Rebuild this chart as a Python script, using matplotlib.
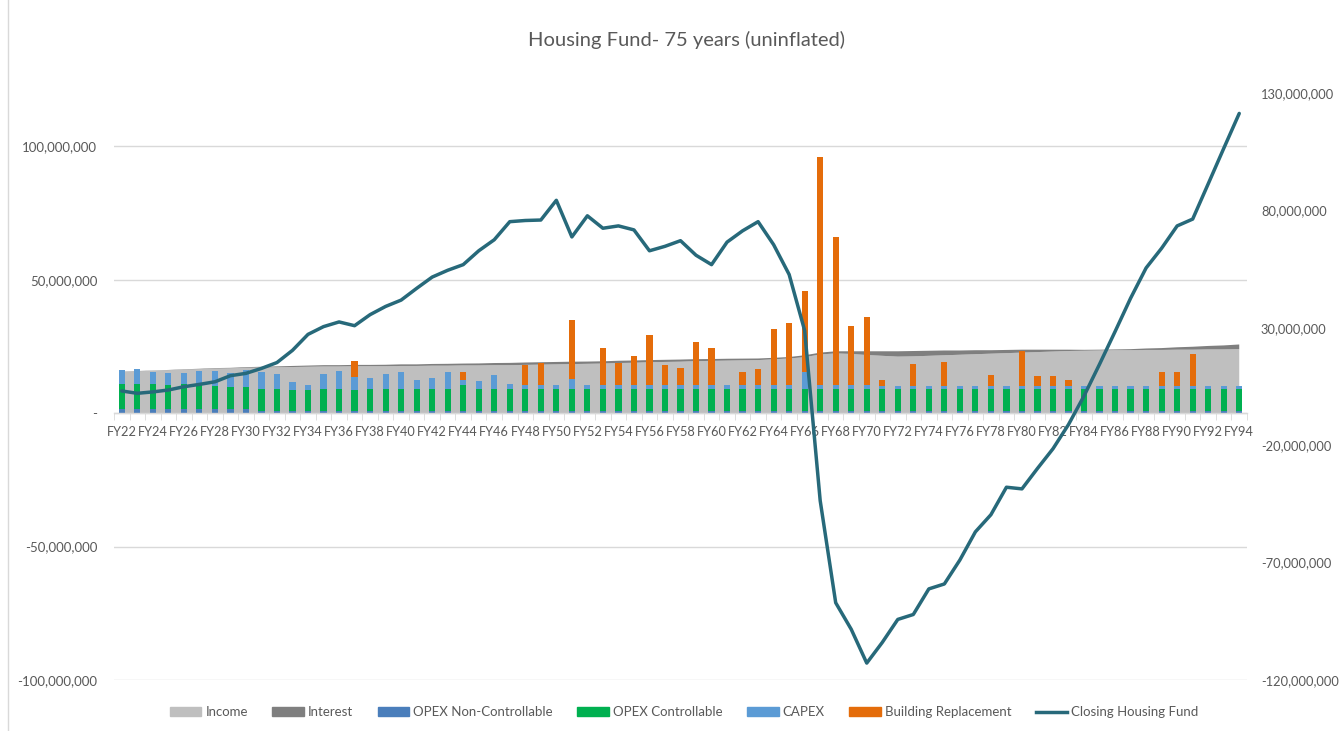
import matplotlib
matplotlib.use('Agg')
import matplotlib.pyplot as plt
from matplotlib.patches import Patch
from matplotlib.lines import Line2D
from matplotlib.ticker import FuncFormatter, FixedLocator
import numpy as np

plt.rcParams['font.family'] = ['Lato', 'DejaVu Sans']
plt.rcParams['axes.unicode_minus'] = False

# categories
years = ['FY%d' % y for y in range(22, 95)]

# values in millions (left axis)
income = [15.5, 15.7, 15.9, 16.1, 16.3, 16.5, 16.7, 16.8, 17.0, 17.1,
          17.2, 17.3, 17.4, 17.5, 17.5, 17.6, 17.6, 17.6, 17.7, 17.7,
          17.8, 17.8, 17.9, 17.9, 18.0, 18.0, 18.1, 18.2, 18.3, 18.4,
          18.5, 18.6, 18.8, 18.9, 19.1, 19.2, 19.3, 19.5, 19.6, 19.7,
          19.8, 19.9, 20.2, 20.5, 21.0, 22.0, 22.4, 22.2, 21.8, 21.5,
          21.2, 21.3, 21.5, 21.7, 21.9, 22.1, 22.3, 22.5, 22.7, 22.9,
          23.1, 23.3, 23.4, 23.5, 23.6, 23.6, 23.7, 23.7, 23.8, 23.8,
          23.9, 23.9, 24.0]

interest = [0.1, 0.1, 0.1, 0.1, 0.15, 0.15, 0.2, 0.2, 0.25, 0.3,
            0.35, 0.4, 0.45, 0.5, 0.5, 0.5, 0.5, 0.55, 0.6, 0.6,
            0.65, 0.7, 0.7, 0.75, 0.8, 0.85, 0.9, 0.9, 0.9, 0.9,
            0.85, 0.85, 0.85, 0.85, 0.8, 0.8, 0.8, 0.75, 0.7, 0.7,
            0.65, 0.6, 0.55, 0.55, 0.7, 0.7, 0.8, 1.0, 1.4, 1.7,
            2.0, 2.0, 1.9, 1.8, 1.6, 1.5, 1.3, 1.2, 1.1, 0.9,
            0.7, 0.5, 0.35, 0.3, 0.3, 0.4, 0.55, 0.7, 0.9, 1.1,
            1.3, 1.5, 1.75]

opex_nc = [1.6, 1.6, 1.6, 1.6, 1.6, 1.6, 1.6, 1.6, 1.6, 0.8,
           0.8, 0.8, 0.8, 0.8, 0.8, 0.8, 0.8, 0.8, 0.8, 0.8,
           0.8, 0.8, 0.8, 0.8, 0.8, 0.8, 0.8, 0.8, 0.8, 0.8,
           0.8, 0.8, 0.8, 0.8, 0.8, 0.8, 0.8, 0.8, 0.8, 0.8,
           0.8, 0.8, 0.8, 0.8, 0.8, 0.8, 0.8, 0.8, 0.8, 0.8,
           0.8, 0.8, 0.8, 0.8, 0.8, 0.8, 0.8, 0.8, 0.8, 0.8,
           0.8, 0.8, 0.8, 0.8, 0.8, 0.8, 0.8, 0.8, 0.8, 0.8,
           0.8, 0.8, 0.8]

opex_c = [9.15, 9.4, 9.4, 8.8, 9.3, 9.15, 8.5, 8.3, 8.3, 8.3,
          8.2, 7.95, 7.8, 8.1, 8.1, 7.8, 8.1, 8.1, 8.1, 8.1,
          8.2, 8.2, 9.6, 8.2, 8.4, 8.3, 8.4, 8.4, 8.4, 8.4,
          8.4, 8.4, 8.4, 8.4, 8.4, 8.4, 8.4, 8.4, 8.4, 8.4,
          8.4, 8.4, 8.4, 8.4, 8.4, 8.4, 8.4, 8.4, 8.4, 8.3,
          8.3, 8.3, 8.3, 8.3, 8.3, 8.3, 8.3, 8.3, 8.3, 8.3,
          8.3, 8.3, 8.3, 8.3, 8.3, 8.3, 8.3, 8.3, 8.3, 8.3,
          8.3, 8.3, 8.3]

capex = [5.35, 5.5, 4.4, 4.6, 4.2, 5.0, 5.8, 5.0, 6.2, 6.3,
         5.75, 3.0, 2.0, 5.6, 7.0, 5.0, 4.35, 5.6, 6.6, 3.7,
         4.25, 6.4, 2.2, 3.1, 5.2, 1.8, 1.25, 1.25, 1.25, 3.75,
         1.25, 1.25, 1.25, 1.25, 1.25, 1.25, 1.25, 1.25, 1.25, 1.25,
         1.25, 1.25, 1.25, 1.25, 6.25, 1.25, 1.25, 1.25, 1.25, 1.25,
         1.25, 1.25, 1.25, 1.25, 1.25, 1.25, 1.25, 1.25, 1.25, 1.25,
         1.25, 1.25, 1.25, 1.25, 1.25, 1.25, 1.25, 1.25, 1.25, 1.25,
         1.25, 1.25, 1.25]

building = [0, 0, 0, 0, 0, 0, 0, 0, 0, 0,
            0, 0, 0, 0, 0, 6.0, 0, 0, 0, 0,
            0, 0, 3.0, 0, 0, 0, 7.75, 8.25, 0, 22.0,
            0, 14.0, 8.25, 10.9, 18.75, 7.75, 6.5, 16.1, 14.0, 0,
            5.1, 6.0, 21.0, 23.4, 30.25, 85.5, 55.6, 22.25, 25.6, 2.1,
            0, 8.25, 0, 9.0, 0, 0, 3.9, 0, 13.0, 3.6,
            3.6, 1.9, 0, 0, 0, 0, 0, 5.25, 4.9, 11.9,
            0, 0, 0]

# right axis
closing_fund = [3.1, 2.1, 2.7, 3.5, 4.9, 5.9, 7.0, 9.6, 10.6, 12.7,
                15.2, 20.4, 27.2, 30.5, 32.5, 30.9, 35.6, 39.1, 41.8, 46.8,
                51.6, 54.5, 56.9, 62.8, 67.5, 75.2, 75.7, 75.9, 84.3, 68.7,
                77.7, 72.4, 73.4, 71.7, 62.8, 64.7, 67.1, 60.9, 56.9, 66.5,
                71.3, 75.2, 65.4, 52.7, 28.8, -43.6, -87.1, -98.4, -112.8, -104.0,
                -94.2, -92.1, -81.2, -79.1, -68.9, -56.9, -49.6, -37.9, -38.6, -29.9,
                -21.5, -11.2, 1.0, 14.5, 28.4, 42.6, 55.5, 63.9, 73.4, 76.3,
                91.3, 106.4, 121.3]

M = 1e6
x = np.arange(len(years))
grey_txt = '#595959'
c_income = '#BFBFBF'
c_interest = '#7F7F7F'
c_nc = '#4A7EBB'
c_c = '#00B050'
c_capex = '#5B9BD5'
c_build = '#E46C0A'
c_line = '#27697A'

fig = plt.figure(figsize=(13.39, 7.31), dpi=100)
ax = fig.add_axes([114/1339, 1-680/731, (1247-114)/1339, (680-93)/731])

inc = np.array(income) * M
intr = np.array(interest) * M
ax.stackplot(x, inc, intr, colors=[c_income, c_interest], linewidth=0, zorder=1)

w = 0.4
nc = np.array(opex_nc) * M
oc = np.array(opex_c) * M
cp = np.array(capex) * M
br = np.array(building) * M
ax.bar(x, nc, w, color=c_nc, zorder=2)
ax.bar(x, oc, w, bottom=nc, color=c_c, zorder=2)
ax.bar(x, cp, w, bottom=nc + oc, color=c_capex, zorder=2)
ax.bar(x, br, w, bottom=nc + oc + cp, color=c_build, zorder=2)

ax.set_xlim(-0.5, len(years) - 0.5)
ax.set_ylim(-100 * M, 120 * M)
ax.yaxis.set_major_locator(FixedLocator([-100 * M, -50 * M, 0, 50 * M, 100 * M]))
ax.yaxis.set_major_formatter(FuncFormatter(lambda v, p: '-' if v == 0 else '{:,.0f}'.format(v)))
ax.grid(axis='y', color='#D9D9D9', linewidth=1.0, zorder=0)
ax.set_axisbelow(True)

for s in ['top', 'right', 'left']:
    ax.spines[s].set_visible(False)
ax.spines['bottom'].set_position(('data', 0))
ax.spines['bottom'].set_color('#D9D9D9')
ax.spines['bottom'].set_linewidth(1.0)
ax.spines['bottom'].set_zorder(3)

ax.set_xticks(x[::2])
ax.set_xticklabels(years[::2])
ax.set_xticks(np.arange(-0.5, len(years), 1), minor=True)
ax.tick_params(axis='x', which='major', length=0, pad=9, labelsize=9.2, labelcolor=grey_txt)
ax.tick_params(axis='x', which='minor', length=5, color='#D9D9D9', direction='out')
ax.tick_params(axis='y', length=0, pad=12, labelsize=9.5, labelcolor=grey_txt)

ax2 = ax.twinx()
ax2.plot(x, np.array(closing_fund) * M, color=c_line, linewidth=2.5, zorder=5,
         solid_joinstyle='round', solid_capstyle='round')
ax2.set_ylim(-120 * M, 130 * M)
ax2.set_yticks([-120 * M, -70 * M, -20 * M, 30 * M, 80 * M, 130 * M])
ax2.yaxis.set_major_formatter(FuncFormatter(lambda v, p: '{:,.0f}'.format(v)))
ax2.tick_params(axis='y', length=0, pad=10, labelsize=9.3, labelcolor=grey_txt)
for s in ax2.spines.values():
    s.set_visible(False)

fig.text(0.513, 1 - 40/731, 'Housing Fund- 75 years (uninflated)', ha='center', va='center',
         fontsize=14.5, color=grey_txt)

# thin chart border on the left
fig.add_artist(Line2D([8/1339, 8/1339], [0, 1], color='#D9D9D9', linewidth=1.0))

handles = [Patch(color=c_income), Patch(color=c_interest), Patch(color=c_nc),
           Patch(color=c_c), Patch(color=c_capex), Patch(color=c_build),
           Line2D([0], [0], color=c_line, linewidth=2.5)]
labels = ['Income', 'Interest', 'OPEX Non-Controllable', 'OPEX Controllable',
          'CAPEX', 'Building Replacement', 'Closing Housing Fund']
fig.legend(handles, labels, ncol=7, loc='center', bbox_to_anchor=(0.511, 1 - 712/731),
           frameon=False, fontsize=9.5, labelcolor=grey_txt, handlelength=2.4,
           handleheight=0.6, handletextpad=0.3, columnspacing=1.85)

fig.savefig('out.png', dpi=100)
